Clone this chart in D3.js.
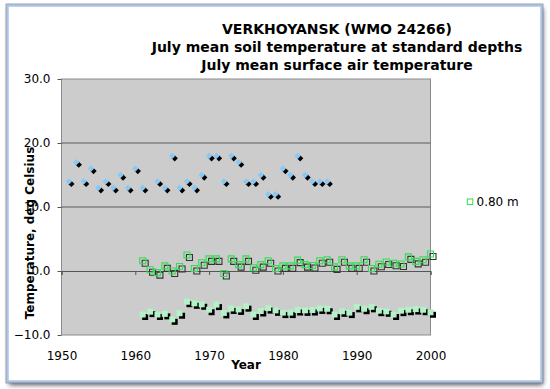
<!DOCTYPE html>
<html lang="en">
<head>
<meta charset="UTF-8">
<title>Verkhoyansk July soil and air temperature</title>
<style>
  body { margin: 0; background: #fff; }
  svg text { font-family: "DejaVu Sans", Verdana, sans-serif; fill: #000; }
</style>
</head>
<body>
<div class="chart"></div>
<script src="https://d3js.org/d3.v7.min.js"></script>
<script type="text/javascript">
var titleLines = ["VERKHOYANSK (WMO 24266)",
    "July mean soil temperature at standard depths",
    "July mean surface air temperature"];
var xTicks = [1950, 1960, 1970, 1980, 1990, 2000];
var yTicks = [-10, 0, 10, 20, 30];

// July mean air temperature (1962 missing)
var airYears = [1951, 1952, 1953, 1954, 1955, 1956, 1957, 1958, 1959, 1960, 1961,
    1963, 1964, 1965, 1966, 1967, 1968, 1969, 1970, 1971, 1972, 1973, 1974, 1975,
    1976, 1977, 1978, 1979, 1980, 1981, 1982, 1983, 1984, 1985, 1986];
var airTemp = [14, 17, 14, 16, 13, 14, 13, 15, 13, 16, 13,
    14, 13, 18, 13, 14, 13, 15, 18, 18, 14, 18, 17, 14,
    14, 15, 12, 12, 16, 15, 18, 15, 14, 14, 14];

// soil temperatures
var soilYears = [1961, 1962, 1963, 1964, 1965, 1966, 1967, 1968, 1969, 1970,
    1971, 1972, 1973, 1974, 1975, 1976, 1977, 1978, 1979, 1980,
    1981, 1982, 1983, 1984, 1985, 1986, 1987, 1988, 1989, 1990,
    1991, 1992, 1993, 1994, 1995, 1996, 1997, 1998, 1999, 2000];
var soil080 = [1.6, 0.2, -0.25, 0.8, 0.0, 0.7, 2.5, 0.4, 1.3, 1.9,
    1.9, -0.4, 1.9, 1.0, 1.9, 0.5, 1.0, 1.6, 0.4, 0.8,
    0.8, 1.7, 1.0, 0.85, 1.6, 1.75, 0.65, 1.75, 0.8, 0.8,
    1.75, 0.4, 1.05, 1.4, 1.2, 1.1, 2.2, 1.5, 1.75, 2.65];
var soilDeep = [-6.8, -6.35, -6.8, -6.7, -7.55, -6.6, -4.8, -5.05, -5.2, -6.05,
    -5.25, -6.55, -5.85, -6.0, -5.5, -6.8, -6.25, -5.8, -6.15, -6.5,
    -6.5, -6.1, -6.15, -6.1, -5.85, -5.9, -6.8, -6.3, -6.5, -5.6,
    -5.9, -5.6, -6.2, -6.3, -6.8, -6.2, -6.05, -5.95, -6.05, -6.45];
var legendLabel = "0.80 m";

var width = 550, height = 389;
var plot = { left: 61.5, right: 430.5, top: 79, bottom: 335 };

var svg = d3.select(".chart").append("svg")
    .attr("width", width)
    .attr("height", height);

// window frame with drop shadow
var defs = svg.append("defs");
defs.append("filter").attr("id", "blur")
    .attr("x", "-10%").attr("y", "-10%").attr("width", "120%").attr("height", "120%")
    .append("feGaussianBlur").attr("stdDeviation", 2.5);
svg.append("rect")
    .attr("x", 9).attr("y", 8).attr("width", 534).attr("height", 377)
    .style("fill", "#555").attr("filter", "url(#blur)");
svg.append("rect")
    .attr("x", 7.5).attr("y", 5.5).attr("width", 534).attr("height", 376)
    .style("fill", "#fff").style("stroke", "#a9c3ea").style("stroke-width", 2.5);
svg.append("rect")
    .attr("x", 6).attr("y", 4).attr("width", 537).attr("height", 379)
    .style("fill", "none").style("stroke", "#8a8f99").style("stroke-width", 0.8);

var x = d3.scaleLinear().domain([1950, 2000]).range([plot.left, plot.right]);
var y = d3.scaleLinear().domain([-10, 30]).range([plot.bottom, plot.top]);

// plot area
svg.append("rect")
    .attr("x", plot.left).attr("y", plot.top)
    .attr("width", plot.right - plot.left).attr("height", plot.bottom - plot.top)
    .style("fill", "#cccccc").style("stroke", "#8c8c8c").style("stroke-width", 1);

svg.append("g").selectAll("line")
    .data([10, 20])
    .enter().append("line")
    .attr("x1", plot.left).attr("x2", plot.right)
    .attr("y1", function(d) { return y(d); })
    .attr("y2", function(d) { return y(d); })
    .style("stroke", "#5a5a5a").style("stroke-width", 1);

// axis line through zero with decade ticks
svg.append("g")
    .attr("transform", "translate(0," + y(0) + ")")
    .call(d3.axisBottom(x).tickValues(xTicks).tickSize(4).tickFormat(""))
    .call(function(g) {
        g.selectAll("path, line").style("stroke", "#555");
    });

// y axis labels
svg.append("g")
    .attr("transform", "translate(" + plot.left + ",0)")
    .call(d3.axisLeft(y).tickValues(yTicks).tickSize(4).tickPadding(7).tickFormat(d3.format(".1f")))
    .call(function(g) {
        g.select(".domain").remove();
        g.selectAll("line").style("stroke", "#555");
        g.selectAll("text").style("font-size", "12px").style("font-family", "DejaVu Sans");
    });

// x axis labels
svg.append("g")
    .attr("transform", "translate(0," + plot.bottom + ")")
    .call(d3.axisBottom(x).tickValues(xTicks).tickSize(0).tickPadding(16).tickFormat(d3.format("d")))
    .call(function(g) {
        g.select(".domain").remove();
        g.selectAll("text").style("font-size", "12px").style("font-family", "DejaVu Sans");
    });

// markers
var sq = d3.symbol().type(d3.symbolSquare);

function drawSeries(years, vals, size, shape, shadow, marker) {
    var g = svg.append("g");
    var pts = years.map(function(yr, i) { return [x(yr), y(vals[i])]; });
    g.selectAll("path.sh").data(pts).enter().append("path")
        .attr("class", "sh")
        .attr("d", sq.size(size)())
        .attr("transform", function(d) { return "translate(" + (d[0] + 2.5) + "," + (d[1] + 2.5) + ")" + shape; })
        .each(function() { shadow(d3.select(this)); });
    g.selectAll("path.mk").data(pts).enter().append("path")
        .attr("class", "mk")
        .attr("d", sq.size(size)())
        .attr("transform", function(d) { return "translate(" + d[0] + "," + d[1] + ")" + shape; })
        .each(function() { marker(d3.select(this)); });
}

drawSeries(airYears, airTemp, 20, " rotate(45)",
    function(s) { s.style("fill", "#000"); },
    function(s) { s.style("fill", "#86c8f6"); });

drawSeries(soilYears, soilDeep, 36, "",
    function(s) { s.style("fill", "#000"); },
    function(s) { s.style("fill", "#b2f2c6"); });

drawSeries(soilYears, soil080, 36, "",
    function(s) { s.style("fill", "none").style("stroke", "#333").style("stroke-width", 1.1); },
    function(s) { s.style("fill", "none").style("stroke", "#2fe04f").style("stroke-width", 1.1); });

// titles
svg.append("g").selectAll("text")
    .data(titleLines)
    .enter().append("text")
    .attr("x", 337)
    .attr("y", function(d, i) { return 34 + i * 17.8; })
    .attr("text-anchor", "middle")
    .style("font-size", "14px")
    .style("font-weight", "bold")
    .text(function(d) { return d; });

svg.append("text")
    .attr("x", (plot.left + plot.right) / 2)
    .attr("y", 369)
    .attr("text-anchor", "middle")
    .style("font-size", "12px")
    .style("font-weight", "bold")
    .text("Year");

svg.append("text")
    .attr("transform", "translate(33.5,233) rotate(-90)")
    .attr("text-anchor", "middle")
    .style("font-size", "12px")
    .style("font-weight", "bold")
    .text("Temperature, deg Celsius");

// legend
svg.append("rect")
    .attr("x", 467.3).attr("y", 199)
    .attr("width", 5.5).attr("height", 5.5)
    .style("fill", "none").style("stroke", "#2fe04f").style("stroke-width", 1);
svg.append("text")
    .attr("x", 476.5).attr("y", 206)
    .style("font-size", "12px")
    .text(legendLabel);
</script>
</body>
</html>
